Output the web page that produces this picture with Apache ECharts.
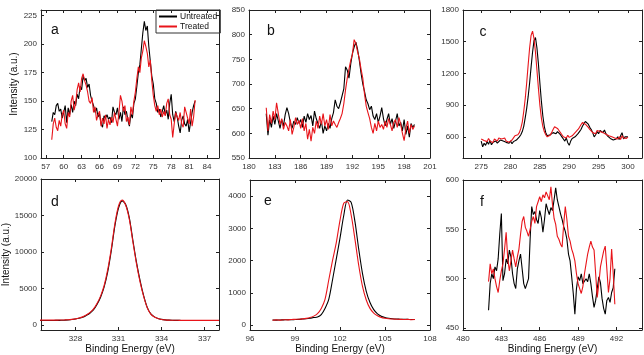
<!DOCTYPE html>
<html>
<head>
<meta charset="utf-8">
<script src="https://cdn.jsdelivr.net/npm/echarts@6/dist/echarts.min.js"></script>
<style>
  html, body { margin: 0; background: #fff; }
  #chart { width: 644px; height: 355px; }
</style>
</head>
<body>
<div id="chart"></div>
<script>
// ---- data (x grid = start + step * i) ----
const aStart = 58, aStep = 0.25
const aUntreated = [132,140,138,146,148,141,143,135,140,146,131,144,138,147,140,150,146,156,152,163,
  160,172,168,170,162,165,155,150,146,140,144,136,139,130,127,137,135,138,134,136,
  131,145,140,138,144,134,140,132,145,138,141,133,128,139,135,148,152,163,175,182,
  196,210,220,212,216,198,185,172,165,152,148,140,143,136,141,146,138,142,134,148,
  156,138,132,141,136,128,122,133,137,130,128,134,123,122,140,146,150]
const aTreated = [116,130,135,127,124,133,128,138,142,130,126,140,136,150,155,142,148,160,166,158,
  170,174,168,164,158,150,148,153,140,145,133,138,141,128,135,130,138,126,134,129,
  136,131,140,134,128,140,155,150,141,146,132,136,129,145,138,150,158,170,180,175,
  188,194,203,198,192,180,186,168,155,146,141,146,138,143,136,141,137,148,152,138,
  134,118,130,140,136,133,140,130,127,145,140,135,130,143,128,136,151]

const bStart = 182, bStep = 0.2
const bUntreated = [640,596,628,612,635,618,640,625,610,628,615,638,652,640,622,610,625,618,632,620,
  628,612,635,622,640,628,636,615,645,630,620,610,625,600,615,605,620,610,630,642,
  668,655,650,662,660,690,735,728,712,740,762,775,785,770,748,722,700,685,668,660,
  648,655,635,628,640,622,635,652,630,615,628,640,618,630,610,625,640,615,622,605,
  628,598,615,592,620,612,618]
const bTreated = [652,605,638,620,645,628,662,640,618,630,608,622,615,605,628,598,612,632,618,626,
  610,630,605,620,588,608,584,612,600,625,610,635,618,640,615,628,608,638,615,625,
  618,612,622,630,640,660,688,712,730,748,760,790,782,765,752,730,712,680,655,642,
  630,612,600,620,605,625,612,618,608,625,612,630,618,605,622,628,612,632,618,600,
  585,610,625,600,618,608,615]

const cStart = 275, cStep = 0.25
const cUntreated = [560,505,540,520,555,530,565,525,548,530,560,540,552,570,585,560,572,548,565,540,
  560,535,555,545,570,580,600,620,650,700,780,870,980,1110,1260,1400,1510,1540,1440,1290,
  1110,940,800,700,640,610,600,620,610,640,655,630,650,640,620,600,580,560,590,545,
  520,560,585,575,600,610,630,650,670,700,725,745,735,720,690,670,640,600,620,650,
  630,660,655,640,665,630,610,620,585,600,570,555,580,600,575,610,640,580,600,585,600]
const cTreated = [580,590,565,575,555,585,560,575,545,580,565,560,590,575,580,565,590,560,575,550,
  565,570,590,610,600,620,640,680,740,840,960,1110,1280,1440,1560,1600,1530,1400,1230,1060,
  900,780,700,650,620,600,605,615,640,670,695,705,680,660,640,620,600,610,590,615,
  595,600,610,625,640,655,670,690,715,735,740,720,705,690,670,655,640,650,630,660,
  670,650,665,640,650,625,640,610,625,600,615,590,605,580,600,575,610,590,605,585,598]

const dStart = 325.5, dStep = 0.25
const dUntreated = [600,600,605,605,610,620,630,650,680,730,800,900,1050,1300,1600,2050,2800,3800,5200,7300,
  10200,13600,16000,17000,16500,14700,11600,8600,6100,4000,2400,1500,1100,880,760,690,650,630,620,615,
  610,610,605,605,600,600,600,600,600,600,600]
const dTreated = [650,650,648,650,655,660,668,685,710,760,830,940,1100,1350,1680,2150,2920,3950,5400,7600,
  10500,13900,16300,17100,16400,14500,11400,8400,5900,3900,2350,1480,1080,870,750,690,655,640,630,625,
  625,620,620,620,618,618,615,615,615,615,615]

const eStart = 97.5, eStep = 0.25
const eUntreated = [160,155,160,165,170,170,175,180,190,200,215,235,250,330,520,800,1400,2050,2700,3400,
  3880,3800,3200,2350,1600,1050,700,480,350,280,240,215,200,190,185,180,180,175,175]
const eTreated = [150,165,155,170,165,175,180,185,195,210,235,280,360,520,800,1400,2000,2550,3250,3780,
  3830,3400,2650,1850,1200,780,520,370,290,240,215,200,190,185,180,175,180,170,175]

const fStart = 482, fStep = 0.125
const fUntreated = [468,495,505,500,512,508,520,545,566,498,505,520,515,529,522,505,495,490,510,518,
  525,510,495,490,490,500,540,573,565,568,560,556,569,562,547,560,576,570,565,572,
  569,580,592,580,573,566,560,553,548,540,525,518,502,485,464,490,502,498,505,495,
  493,500,497,505,495,482,471,478,490,502,496,480,470,464,478,481,476,486,491,510]
const fTreated = [497,515,505,510,500,492,486,498,508,515,530,547,520,508,518,529,520,512,522,530,
  545,558,563,552,548,543,550,558,563,556,573,578,583,578,585,582,588,590,580,593,
  575,561,555,543,540,535,532,555,573,560,543,538,530,525,518,505,495,490,485,492,
  505,515,525,532,538,532,529,505,481,495,512,520,528,533,510,486,500,530,505,474]

// tick labels
const aXTicks = [57,60,63,66,69,72,75,78,81,84], aYTicks = [100,125,150,175,200,225]
const bXTicks = [180,183,186,189,192,195,198,201], bYTicks = [550,600,650,700,750,800,850]
const cXTicks = [275,280,285,290,295,300], cYTicks = [600,900,1200,1500,1800]
const dXTicks = [328,331,334,337], dYTicks = [0,5000,10000,15000,20000]
const eXTicks = [96,99,102,105,108], eYTicks = [0,1000,2000,3000,4000]
const fXTicks = [480,483,486,489,492], fYTicks = [450,500,550,600]

const panels = [
  { letter: 'a', grid: [41, 10, 178, 148], xr: [56.2, 86], yr: [100, 230], xt: aXTicks, yt: aYTicks,
    start: aStart, step: aStep, black: aUntreated, red: aTreated, lx: 55, ly: 30, yName: true },
  { letter: 'b', grid: [249, 10, 181, 148], xr: [180, 201], yr: [550, 850], xt: bXTicks, yt: bYTicks,
    start: bStart, step: bStep, black: bUntreated, red: bTreated, lx: 271, ly: 31 },
  { letter: 'c', grid: [463, 10, 179, 148], xr: [271.9, 302.4], yr: [400, 1800], xt: cXTicks, yt: cYTicks,
    start: cStart, step: cStep, black: cUntreated, red: cTreated, lx: 483, ly: 32 },
  { letter: 'd', grid: [41, 179, 178, 151], xr: [325.6, 338], yr: [-700, 20000], xt: dXTicks, yt: dYTicks,
    start: dStart, step: dStep, black: dUntreated, red: dTreated, lx: 55, ly: 202, yName: true, xName: true, smooth: true },
  { letter: 'e', grid: [250, 180, 180, 150], xr: [96, 108], yr: [-150, 4500], xt: eXTicks, yt: eYTicks,
    start: eStart, step: eStep, black: eUntreated, red: eTreated, lx: 268, ly: 201, xName: true, smooth: true },
  { letter: 'f', grid: [463, 180, 179, 150], xr: [480, 494], yr: [448, 600], xt: fXTicks, yt: fYTicks,
    start: fStart, step: fStep, black: fUntreated, red: fTreated, lx: 482, ly: 202, xName: true }
]

const axisColor = '#222'
const font = 'Liberation Sans, Arial, sans-serif'
const pairs = (start, step, ys) => ys.map((v, i) => [+(start + step * i).toFixed(3), v])

const grids = [], xAxes = [], yAxes = [], series = [], graphics = []
panels.forEach((p, i) => {
  grids.push({ left: p.grid[0], top: p.grid[1], width: p.grid[2], height: p.grid[3], outerBoundsMode: 'none' })
  const line = { onZero: false, lineStyle: { color: axisColor, width: 1 } }
  const tick = vals => ({ inside: true, length: 3, customValues: vals, lineStyle: { color: axisColor } })
  xAxes.push({
    gridIndex: i, type: 'value', position: 'bottom', min: p.xr[0], max: p.xr[1],
    axisLine: line, axisTick: tick(p.xt), splitLine: { show: false },
    axisLabel: { customValues: p.xt, fontSize: 8, color: '#333', margin: 5, formatter: v => String(v) },
    name: p.xName ? 'Binding Energy (eV)' : '', nameLocation: 'middle', nameGap: 13,
    nameTextStyle: { fontSize: 10, color: '#111' }
  })
  xAxes.push({
    gridIndex: i, type: 'value', position: 'top', min: p.xr[0], max: p.xr[1],
    axisLine: line, axisTick: tick(p.xt), axisLabel: { show: false }, splitLine: { show: false }
  })
  yAxes.push({
    gridIndex: i, type: 'value', position: 'left', min: p.yr[0], max: p.yr[1],
    axisLine: line, axisTick: tick(p.yt), splitLine: { show: false },
    axisLabel: { customValues: p.yt, fontSize: 8, color: '#333', margin: 4, formatter: v => String(v) },
    name: p.yName ? 'Intensity (a.u.)' : '', nameLocation: 'middle', nameGap: 22,
    nameTextStyle: { fontSize: 10, color: '#111' }
  })
  yAxes.push({
    gridIndex: i, type: 'value', position: 'right', min: p.yr[0], max: p.yr[1],
    axisLine: line, axisTick: tick(p.yt), axisLabel: { show: false }, splitLine: { show: false }
  })
  series.push({
    name: 'Untreated', type: 'line', xAxisIndex: 2 * i, yAxisIndex: 2 * i,
    data: pairs(p.start, p.step, p.black), showSymbol: false, smooth: p.smooth ? 0.3 : false,
    lineStyle: { color: '#000', width: 1.1 }, itemStyle: { color: '#000' }
  })
  series.push({
    name: 'Treated', type: 'line', xAxisIndex: 2 * i, yAxisIndex: 2 * i,
    data: pairs(p.start, p.step, p.red), showSymbol: false, smooth: p.smooth ? 0.3 : false,
    lineStyle: { color: '#e8141a', width: 1.1 }, itemStyle: { color: '#e8141a' }
  })
  graphics.push({
    type: 'text', x: p.lx, y: p.ly,
    style: { text: p.letter, fontSize: 14, fill: '#111', align: 'center', verticalAlign: 'middle', fontFamily: font }
  })
})

const chart = echarts.init(document.getElementById('chart'), null, { renderer: 'canvas' })
chart.setOption({
  animation: false,
  backgroundColor: '#fff',
  textStyle: { fontFamily: font },
  legend: {
    data: ['Untreated', 'Treated'], orient: 'vertical', left: 156, top: 10,
    icon: 'rect', itemWidth: 18, itemHeight: 2, itemGap: 1,
    padding: [2, 3, 2, 3], borderColor: '#333', borderWidth: 1,
    textStyle: { fontSize: 8.5, color: '#111', padding: [0, 0, 0, -2] }
  },
  grid: grids,
  xAxis: xAxes,
  yAxis: yAxes,
  series: series,
  graphic: graphics
})
</script>
</body>
</html>
